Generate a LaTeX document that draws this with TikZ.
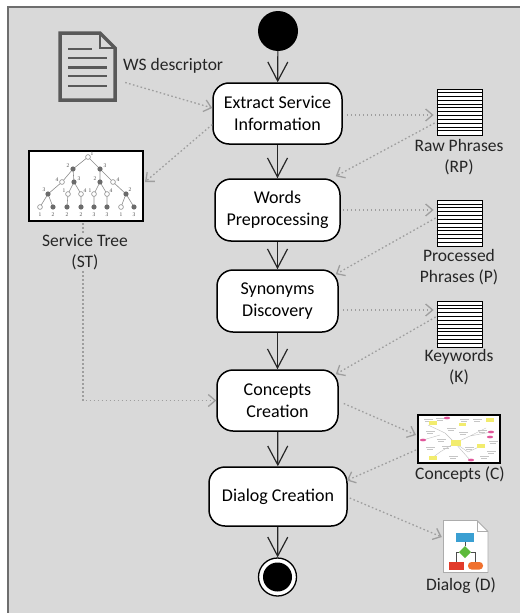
\documentclass[tikz,border=0pt]{standalone}
\usepackage{fontspec}
\setmainfont{Carlito}
\newfontfamily\treefont{Liberation Serif}
\usetikzlibrary{arrows.meta,calc}

\definecolor{bgc}{HTML}{D9D9D9}
\definecolor{framec}{HTML}{6E6E6E}
\definecolor{flowc}{HTML}{262626}
\definecolor{dotc}{HTML}{9E9E9E}
\definecolor{capc}{HTML}{262626}
\definecolor{docc}{HTML}{595959}
\definecolor{treec}{HTML}{8C8C8C}
\definecolor{treefill}{HTML}{6B6B6B}
\definecolor{cmyellow}{HTML}{F2EC6E}
\definecolor{cmpink}{HTML}{E0569A}
\definecolor{fcblue}{HTML}{3A9FD2}
\definecolor{fcgreen}{HTML}{5DBA3B}
\definecolor{fcred}{HTML}{E23B2B}
\definecolor{fcorange}{HTML}{F0712E}

\begin{document}
\begin{tikzpicture}[x=1pt,y=-1pt,
  activity/.style={draw=black, line width=1.5pt, fill=white, rounded corners=16pt,
    align=center, inner sep=0pt, font=\fontsize{18}{22}\selectfont, text=black},
  flow/.style={draw=flowc, line width=1.2pt, -{Straight Barb[length=19pt,width=20pt]}},
  data/.style={draw=dotc, line width=1.3pt, dash pattern=on 1.6pt off 2.4pt,
    -{Straight Barb[length=7pt,width=12pt]}},
  caption/.style={font=\fontsize{17.5}{21}\selectfont, text=capc, align=center, inner sep=0pt},
  store/.style={draw=black, line width=0.8pt, fill=white, minimum width=45, minimum height=46, inner sep=0pt},
  stripe/.style={draw=black, line width=0.6pt},
  icon/.style={minimum width=#1, inner sep=0pt},
  treeedge/.style={draw=treec, line width=0.6pt},
  treenum/.style={font=\treefont\fontsize{5.5}{5.5}\selectfont, text=black!70, inner sep=0pt},
  textbit/.style={fill=gray!45},
]
\useasboundingbox (0,0) rectangle (520,613);

% canvas
\fill[bgc] (8,7) rectangle (520,613);
\draw[framec, line width=2pt] (8,613) -- (8,7) -- (520,7);

% ---------- activity flow ----------
\node[circle, fill=black, minimum size=40, inner sep=0pt] (start) at (278,31) {};
\node[activity, minimum width=129, minimum height=61] (ext) at (277.5,113.5) {Extract Service\\Information};
\node[activity, minimum width=125, minimum height=62] (words) at (277.5,210) {Words\\Preprocessing};
\node[activity, minimum width=121, minimum height=62] (syn) at (277.5,301) {Synonyms\\Discovery};
\node[activity, minimum width=121, minimum height=61] (cc) at (277.5,400.5) {Concepts\\Creation};
\node[activity, minimum width=138, minimum height=59] (dlg) at (278,496.5) {Dialog Creation};
\node[circle, draw=black, line width=1.3pt, fill=white, minimum size=38, inner sep=0pt] (end) at (277.5,577) {};
\fill[black] (end.center) circle (14.5);

\draw[flow] (start) -- (ext);
\draw[flow] (ext) -- (words);
\draw[flow] (words) -- (syn);
\draw[flow] (syn) -- (cc);
\draw[flow] (cc) -- (dlg);
\draw[flow] (dlg) -- (end);

% ---------- WS descriptor document ----------
\node[icon=59, minimum height=71] (ws) at (87.5,66.5) {};
\draw[docc, line width=3.5pt, line join=miter, fill=bgc]
  (60,33) -- (100,33) -- (115,48) -- (115,100) -- (60,100) -- cycle;
\draw[docc, line width=2pt] (100,33) -- (100,48) -- (115,48);
\draw[docc, line width=2pt] (68,49) -- (92,49) (68,58) -- (107,58)
  (68,76) -- (107,76) (68,86) -- (107,86);
\draw[docc, line width=3pt] (68,67) -- (107,67);
\node[caption, anchor=west] (wslbl) at (123,66) {WS descriptor};

% ---------- service tree ----------
\node[draw=black, line width=2pt, fill=white, minimum width=114, minimum height=70, inner sep=0pt] (tree) at (86,186) {};
\draw[treeedge]
  (88,157) -- (73,169) (88,157) -- (100,169)
  (73,169) -- (62,182) (73,169) -- (74,182)
  (100,169) -- (100,182) (100,169) -- (113,182)
  (62,182) -- (48,194) (74,182) -- (68,194) (74,182) -- (81,194)
  (100,182) -- (94,194) (100,182) -- (107,194) (113,182) -- (126,194)
  (48,194) -- (40,207) (48,194) -- (53,207) (68,194) -- (67,207) (81,194) -- (81,207)
  (94,194) -- (94,207) (107,194) -- (107,207) (126,194) -- (121,207) (126,194) -- (134,207);
\foreach \p in {(88,157),(62,182),(113,182),(68,194),(81,194),(94,194),(107,194),(40,207),(121,207)}
  \filldraw[fill=white, draw=treec, line width=0.6pt] \p circle (2.4);
\foreach \p in {(73,169),(100,169),(74,182),(100,182),(48,194),(126,194),(53,207),(67,207),(81,207),(94,207),(107,207),(134,207)}
  \fill[treefill] \p circle (2.6);
\foreach \x/\y/\t [count=\n] in {92/154/1, 68/166/2, 105/166/3, 57/180/4, 79/179/3, 95/179/2, 118/180/4,
    44/190/3, 64/191/1, 85/191/4, 90/191/1, 111/191/4, 130/190/2,
    40/215/1, 53/215/2, 67/215/2, 81/215/2, 94/215/3, 107/215/3, 121/215/1, 134/215/3}
  \node[treenum] (tn\n) at (\x,\y) {\t};

% ---------- phrase stores ----------
\node[store] (rp) at (459.5,112) {};
\node[store] (pp) at (459.5,223.5) {};
\node[store] (kw) at (459.5,324.5) {};
\foreach \s in {rp,pp,kw}
  \foreach \k in {1,...,11}
    \draw[stripe] ($(\s.north west)+(0,\k*3.833)$) -- ($(\s.north east)+(0,\k*3.833)$);
\node[caption] (rplbl) at (459,157.5) {Raw Phrases\\(RP)};
\node[caption] (pplbl) at (459,267) {Processed\\Phrases (P)};
\node[caption] (kwlbl) at (459,367.5) {Keywords\\(K)};

% ---------- concept map ----------
\node[draw=black, line width=2pt, fill=white, minimum width=82, minimum height=48, inner sep=0pt] (cpt) at (459,439) {};
\draw[gray!50, line width=0.4pt]
  (428,425) -- (445,433) -- (455,443) -- (470,436) -- (486,428)
  (455,443) -- (440,452) -- (432,458)
  (455,443) -- (468,452) -- (481,446)
  (455,443) -- (470,460) (440,435) -- (423,440) (470,436) -- (491,432);
\foreach \x/\y in {424/419, 436/418, 460/419, 473/419, 426/431, 447/428, 478/430, 426/447,
    442/446, 465/447, 487/451, 449/456, 480/456, 459/432, 437/439, 489/441}
  { \fill[textbit] (\x,\y) rectangle ++(9,0.9); \fill[textbit] (\x+1,\y+2.2) rectangle ++(6,0.9); }
\foreach \x/\y/\w/\h in {429/421/8/4, 459/423/7/3, 486/418/8/4, 451/440/10/6, 477/444/8/4, 429/456/8/4}
  \fill[cmyellow] (\x,\y) rectangle ++(\w,\h);
\foreach \x/\y in {447/418, 491/432, 423/440, 471/460, 490/437}
  \fill[cmpink] (\x,\y) ellipse (3.2 and 1.3);
\node[caption] (cptlbl) at (460,475) {Concepts (C)};

% ---------- dialog document ----------
\node[icon=45, minimum height=53] (dd) at (465.5,546.5) {};
\draw[fill=white, draw=gray!65, line width=0.8pt, line join=miter]
  (443.5,520.5) -- (477,520.5) -- (488,531.5) -- (488,572.5) -- (443.5,572.5) -- cycle;
\draw[gray!65, line width=0.8pt] (477,520.5) -- (477,531.5) -- (488,531.5);
\fill[fcblue] (456,533) rectangle (474,541.5);
\draw[black!70, line width=0.8pt] (465,541.5) -- (465,546)
  (459,552) -- (456,552) -- (456,562) (471,552) -- (475.5,552) -- (475.5,562);
\fill[fcgreen] (465,546) -- (471,552) -- (465,558) -- (459,552) -- cycle;
\fill[fcred] (448.5,562) rectangle (463.5,569.5);
\fill[fcorange, rounded corners=3.5pt] (468,562) rectangle (483,569.5);
\node[caption] (ddlbl) at (461,586) {Dialog (D)};

% ---------- data connectors ----------
\draw[data] ($(ws.east)+(8,16)$) -- ($(ext.west)+(0,-5.5)$);
\draw[data] ($(ext.west)+(0,11)$) -- ($(tree.east)+(1,-4)$);
\draw[data] ($(ext.east)+(4,1.5)$) -- ($(rp.west)+(-3,3)$);
\draw[data] ($(rp.west)+(-2,11)$) -- ($(words.north east)+(-5,-2)$);
\draw[data] ($(words.east)+(2,0)$) -- ($(pp.west)+(-3,-13.5)$);
\draw[data] ($(pp.west)+(-1,-5.5)$) -- ($(syn.north east)+(-3,5)$);
\draw[data] ($(syn.east)+(4,9)$) -- ($(kw.west)+(-3,-14.5)$);
\draw[data] ($(kw.west)+(-1,-7.5)$) -- ($(cc.north east)+(-3,5)$);
\draw[data] ($(tree.south)+(-3,1)$) |- (cc.west);
\draw[data] ($(cc.east)+(5,3)$) -- ($(cpt.west)+(-1,-4)$);
\draw[data] ($(cpt.west)+(-1,11)$) -- ($(dlg.east)+(-1,-16)$);
\draw[data] ($(dlg.east)+(2,1.5)$) -- ($(dd.west)+(-1,-9.5)$);

% tree caption sits over its own connector
\node[caption, fill=bgc] (treelbl) at (85,252) {Service Tree\\(ST)};
\end{tikzpicture}
\end{document}
